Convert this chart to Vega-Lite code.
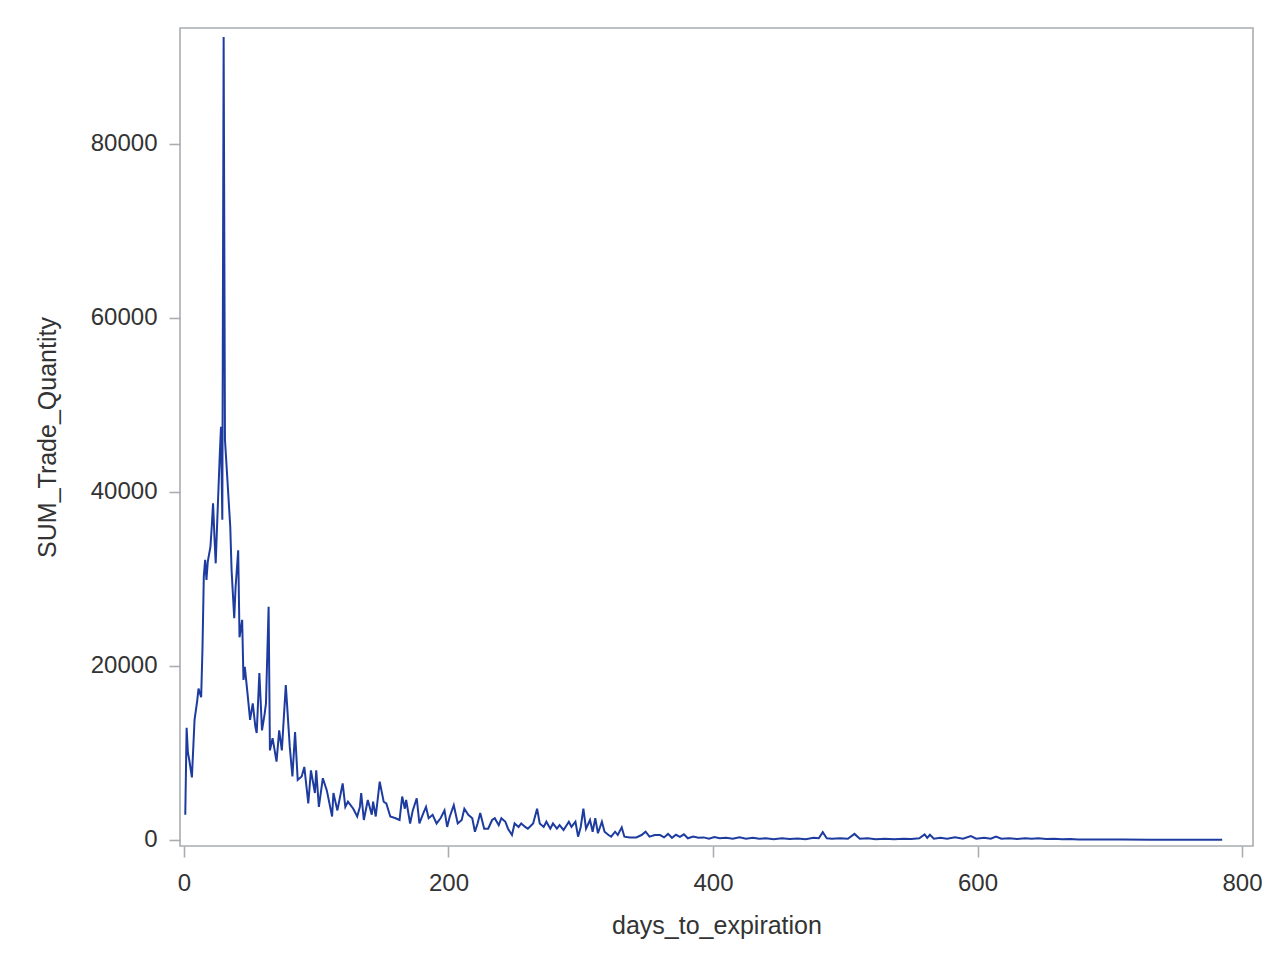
{
  "$schema": "https://vega.github.io/schema/vega-lite/v6.json",
  "autosize": {"type": "none"},
  "padding": {"left": 180, "top": 28, "right": 33, "bottom": 114},
  "width": 1073,
  "height": 818,
  "background": "white",
  "config": {
    "view": {"stroke": "#a9adb1", "strokeWidth": 1.6},
    "axis": {
      "domain": false,
      "grid": false,
      "tickColor": "#a9adb1",
      "tickWidth": 1.6,
      "tickSize": 11,
      "labelFont": "Liberation Sans",
      "labelFontSize": 24,
      "labelColor": "#333333",
      "titleFont": "Liberation Sans",
      "titleFontSize": 25,
      "titleFontWeight": "normal",
      "titleColor": "#333333"
    }
  },
  "data": {
    "values": [
      {"d": 1, "v": 2900}, {"d": 2, "v": 12900}, {"d": 3, "v": 10000}, {"d": 4, "v": 9200},
      {"d": 6, "v": 7200}, {"d": 8, "v": 13800}, {"d": 10, "v": 16000}, {"d": 11, "v": 17400},
      {"d": 13, "v": 16400}, {"d": 14, "v": 22000}, {"d": 15, "v": 30300}, {"d": 16, "v": 32200},
      {"d": 17, "v": 29900}, {"d": 18, "v": 32000}, {"d": 20, "v": 33700}, {"d": 21, "v": 36000},
      {"d": 22, "v": 38700}, {"d": 23, "v": 35000}, {"d": 24, "v": 31800}, {"d": 25, "v": 36000},
      {"d": 27, "v": 44000}, {"d": 28, "v": 47500}, {"d": 29, "v": 36800}, {"d": 30, "v": 92300},
      {"d": 31, "v": 46000}, {"d": 33, "v": 41000}, {"d": 35, "v": 36000}, {"d": 36, "v": 31000},
      {"d": 38, "v": 25500}, {"d": 39, "v": 29000}, {"d": 41, "v": 33300}, {"d": 42, "v": 23300},
      {"d": 44, "v": 25300}, {"d": 45, "v": 18400}, {"d": 46, "v": 19900}, {"d": 48, "v": 16900},
      {"d": 50, "v": 13800}, {"d": 52, "v": 15700}, {"d": 54, "v": 13000}, {"d": 55, "v": 12300},
      {"d": 57, "v": 19200}, {"d": 59, "v": 12600}, {"d": 61, "v": 14500}, {"d": 62, "v": 15700},
      {"d": 64, "v": 26800}, {"d": 65, "v": 10300}, {"d": 67, "v": 11700}, {"d": 70, "v": 9000},
      {"d": 72, "v": 12600}, {"d": 74, "v": 10300}, {"d": 77, "v": 17800}, {"d": 80, "v": 10700},
      {"d": 82, "v": 7300}, {"d": 84, "v": 12400}, {"d": 86, "v": 6900}, {"d": 89, "v": 7300},
      {"d": 91, "v": 8400}, {"d": 94, "v": 4200}, {"d": 96, "v": 8000}, {"d": 99, "v": 5400},
      {"d": 100, "v": 8000}, {"d": 102, "v": 3800}, {"d": 105, "v": 7100}, {"d": 108, "v": 5700},
      {"d": 112, "v": 2700}, {"d": 113, "v": 5400}, {"d": 116, "v": 3400}, {"d": 120, "v": 6500},
      {"d": 122, "v": 3800}, {"d": 124, "v": 4400}, {"d": 128, "v": 3600}, {"d": 131, "v": 2700},
      {"d": 133, "v": 3800}, {"d": 134, "v": 5400}, {"d": 136, "v": 2300}, {"d": 139, "v": 4600},
      {"d": 142, "v": 2900}, {"d": 143, "v": 4400}, {"d": 145, "v": 2700}, {"d": 148, "v": 6700},
      {"d": 151, "v": 4400}, {"d": 153, "v": 4200}, {"d": 156, "v": 2700}, {"d": 160, "v": 2500},
      {"d": 163, "v": 2300}, {"d": 165, "v": 5000}, {"d": 167, "v": 3600}, {"d": 168, "v": 4600},
      {"d": 171, "v": 1900}, {"d": 173, "v": 3400}, {"d": 176, "v": 4800}, {"d": 178, "v": 1900},
      {"d": 181, "v": 3100}, {"d": 183, "v": 3800}, {"d": 185, "v": 2500}, {"d": 188, "v": 2900},
      {"d": 191, "v": 1900}, {"d": 194, "v": 2500}, {"d": 197, "v": 3400}, {"d": 199, "v": 1500},
      {"d": 201, "v": 2700}, {"d": 204, "v": 4000}, {"d": 207, "v": 1900}, {"d": 210, "v": 2300},
      {"d": 212, "v": 3600}, {"d": 215, "v": 2900}, {"d": 218, "v": 2500}, {"d": 220, "v": 950},
      {"d": 222, "v": 1900}, {"d": 224, "v": 3100}, {"d": 227, "v": 1300}, {"d": 230, "v": 1300},
      {"d": 233, "v": 2300}, {"d": 235, "v": 2500}, {"d": 238, "v": 1700}, {"d": 240, "v": 2500},
      {"d": 243, "v": 2100}, {"d": 245, "v": 1300}, {"d": 248, "v": 570}, {"d": 250, "v": 1900},
      {"d": 253, "v": 1500}, {"d": 255, "v": 1900}, {"d": 258, "v": 1500}, {"d": 260, "v": 1300},
      {"d": 264, "v": 1900}, {"d": 267, "v": 3600}, {"d": 269, "v": 1900}, {"d": 272, "v": 1500},
      {"d": 274, "v": 2100}, {"d": 277, "v": 1300}, {"d": 279, "v": 1900}, {"d": 282, "v": 1300},
      {"d": 284, "v": 1700}, {"d": 287, "v": 1150}, {"d": 291, "v": 2100}, {"d": 293, "v": 1500},
      {"d": 296, "v": 2100}, {"d": 298, "v": 380}, {"d": 300, "v": 1500}, {"d": 302, "v": 3600},
      {"d": 304, "v": 1300}, {"d": 307, "v": 2300}, {"d": 309, "v": 950}, {"d": 311, "v": 2500},
      {"d": 313, "v": 770}, {"d": 316, "v": 2100}, {"d": 318, "v": 950}, {"d": 321, "v": 570},
      {"d": 323, "v": 380}, {"d": 326, "v": 950}, {"d": 328, "v": 570}, {"d": 331, "v": 1450},
      {"d": 333, "v": 380}, {"d": 337, "v": 300}, {"d": 342, "v": 300}, {"d": 346, "v": 570},
      {"d": 349, "v": 950}, {"d": 352, "v": 380}, {"d": 356, "v": 570}, {"d": 360, "v": 570},
      {"d": 363, "v": 300}, {"d": 366, "v": 700}, {"d": 369, "v": 250}, {"d": 372, "v": 600},
      {"d": 375, "v": 350}, {"d": 378, "v": 650}, {"d": 381, "v": 200}, {"d": 385, "v": 400},
      {"d": 389, "v": 250}, {"d": 393, "v": 300}, {"d": 397, "v": 150}, {"d": 401, "v": 350},
      {"d": 405, "v": 200}, {"d": 410, "v": 250}, {"d": 415, "v": 150}, {"d": 420, "v": 300},
      {"d": 425, "v": 150}, {"d": 430, "v": 250}, {"d": 435, "v": 150}, {"d": 440, "v": 200},
      {"d": 446, "v": 100}, {"d": 452, "v": 200}, {"d": 458, "v": 120}, {"d": 464, "v": 180},
      {"d": 470, "v": 100}, {"d": 476, "v": 250}, {"d": 480, "v": 200}, {"d": 483, "v": 900},
      {"d": 486, "v": 200}, {"d": 490, "v": 150}, {"d": 496, "v": 200}, {"d": 502, "v": 150},
      {"d": 507, "v": 700}, {"d": 511, "v": 150}, {"d": 517, "v": 200}, {"d": 523, "v": 100},
      {"d": 530, "v": 150}, {"d": 537, "v": 100}, {"d": 544, "v": 150}, {"d": 550, "v": 120},
      {"d": 556, "v": 200}, {"d": 560, "v": 650}, {"d": 562, "v": 250}, {"d": 564, "v": 600},
      {"d": 567, "v": 150}, {"d": 572, "v": 250}, {"d": 577, "v": 150}, {"d": 583, "v": 300},
      {"d": 589, "v": 150}, {"d": 595, "v": 450}, {"d": 599, "v": 150}, {"d": 605, "v": 250},
      {"d": 610, "v": 150}, {"d": 614, "v": 400}, {"d": 618, "v": 150}, {"d": 624, "v": 200},
      {"d": 630, "v": 120}, {"d": 636, "v": 200}, {"d": 641, "v": 150}, {"d": 646, "v": 200},
      {"d": 652, "v": 120}, {"d": 658, "v": 150}, {"d": 664, "v": 100}, {"d": 670, "v": 120},
      {"d": 676, "v": 60}, {"d": 690, "v": 50}, {"d": 710, "v": 50}, {"d": 730, "v": 40},
      {"d": 750, "v": 40}, {"d": 770, "v": 40}, {"d": 785, "v": 40}
    ]
  },
  "mark": {"type": "line", "color": "#1e3ca0", "strokeWidth": 2, "clip": true},
  "encoding": {
    "x": {
      "field": "d",
      "type": "quantitative",
      "title": "days_to_expiration",
      "scale": {"domain": [-3, 808.3], "nice": false, "zero": false},
      "axis": {"values": [0, 200, 400, 600, 800], "format": "d", "labelPadding": 14, "titlePadding": 18}
    },
    "y": {
      "field": "v",
      "type": "quantitative",
      "title": "SUM_Trade_Quantity",
      "scale": {"domain": [-690, 93333], "nice": false, "zero": false},
      "axis": {"values": [0, 20000, 40000, 60000, 80000], "format": "d", "labelPadding": 12, "titlePadding": 30}
    }
  }
}
